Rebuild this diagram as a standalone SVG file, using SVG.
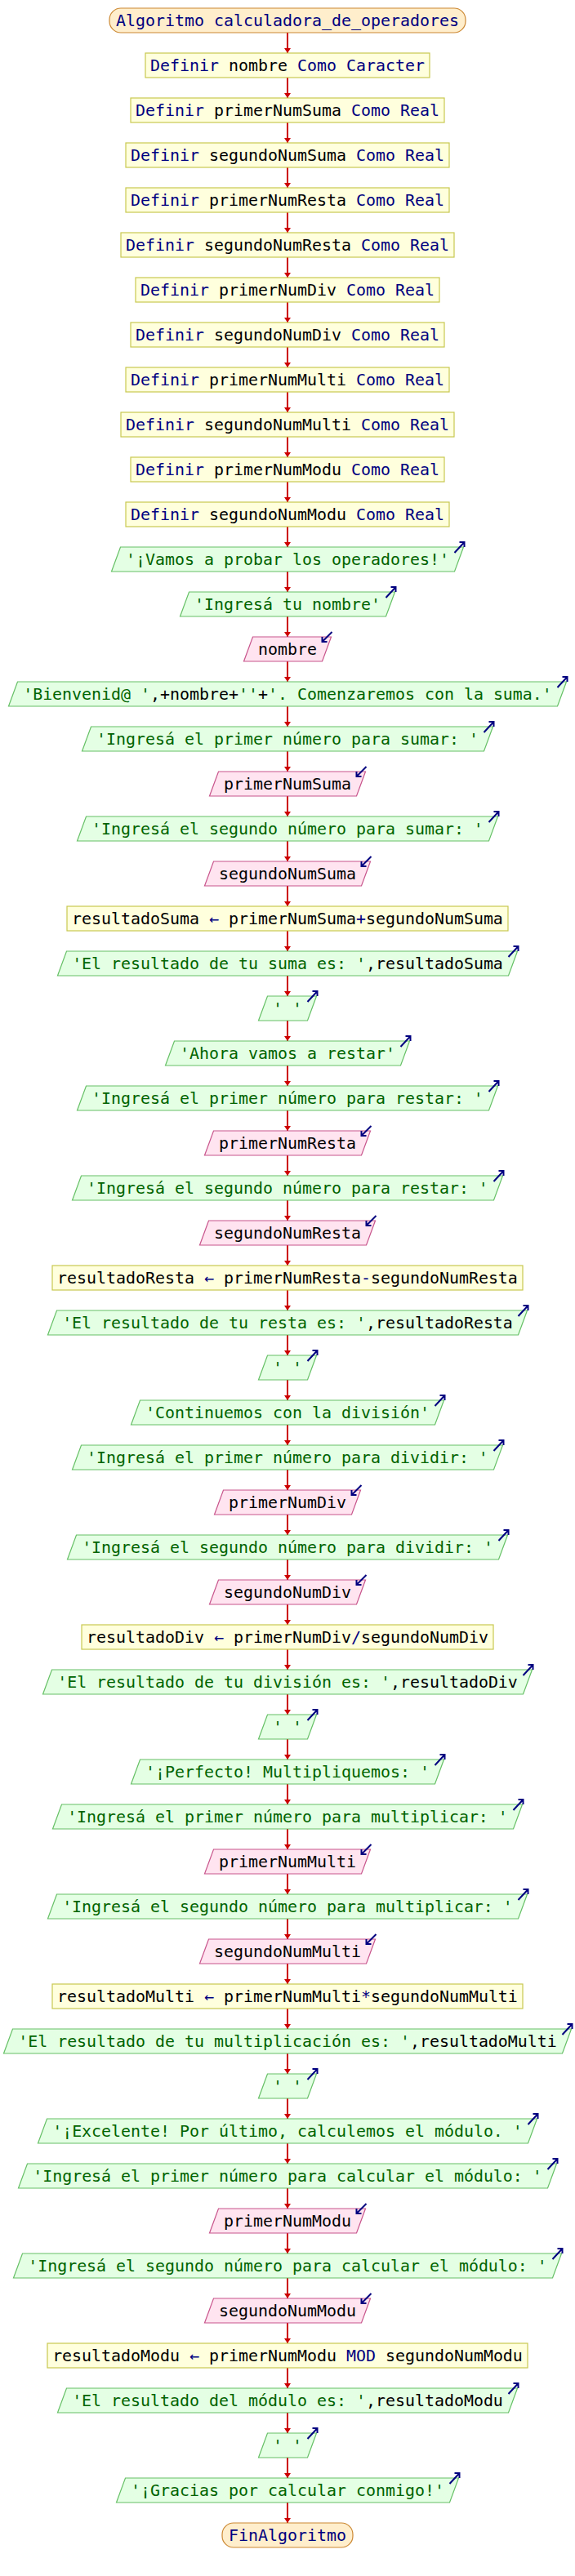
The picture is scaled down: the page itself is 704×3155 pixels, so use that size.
<svg xmlns="http://www.w3.org/2000/svg" xmlns:xlink="http://www.w3.org/1999/xlink" width="704" height="3155" viewBox="0 0 704 3155">
<style>
text{font-family:"DejaVu Sans Mono","Liberation Mono",monospace;font-size:19.93px;text-anchor:middle;white-space:pre;fill:#000}
.term{fill:#ffeecc;stroke:#cc8833;stroke-width:1.2}
.proc{fill:#ffffdd;stroke:#c8c850;stroke-width:1.2}
.out{fill:#e4ffe4;stroke:#66c066;stroke-width:1.2}
.in{fill:#ffe4f0;stroke:#c8558c;stroke-width:1.2}
.k{fill:#000080}
.s{fill:#006400}
.ic{fill:none;stroke:#000080;stroke-width:2}
.cn line{stroke:#cc0000;stroke-width:2;marker-end:url(#ah)}
</style>
<defs>
<marker id="ah" viewBox="0 0 6 8" refX="6" refY="4" markerWidth="6" markerHeight="8" markerUnits="userSpaceOnUse" orient="auto"><path d="M0,0L6,4L0,8z" fill="#cc0000"/></marker>
<path id="oi" class="ic" d="M-11,7L1,-6M-5,-6L1,-6L1,0"/>
<path id="ii" class="ic" d="M1,-6L-11,6M-11,0L-11,6L-5,6"/>
</defs>
<g id="connectors" class="cn">
<line x1="352" y1="40" x2="352" y2="65"/><line x1="352" y1="95" x2="352" y2="120"/><line x1="352" y1="150" x2="352" y2="175"/><line x1="352" y1="205" x2="352" y2="230"/><line x1="352" y1="260" x2="352" y2="285"/><line x1="352" y1="315" x2="352" y2="340"/><line x1="352" y1="370" x2="352" y2="395"/><line x1="352" y1="425" x2="352" y2="450"/><line x1="352" y1="480" x2="352" y2="505"/><line x1="352" y1="535" x2="352" y2="560"/><line x1="352" y1="590" x2="352" y2="615"/><line x1="352" y1="645" x2="352" y2="670"/><line x1="352" y1="700" x2="352" y2="725"/><line x1="352" y1="755" x2="352" y2="780"/><line x1="352" y1="810" x2="352" y2="835"/><line x1="352" y1="865" x2="352" y2="890"/><line x1="352" y1="920" x2="352" y2="945"/><line x1="352" y1="975" x2="352" y2="1000"/><line x1="352" y1="1030" x2="352" y2="1055"/><line x1="352" y1="1085" x2="352" y2="1110"/><line x1="352" y1="1140" x2="352" y2="1165"/><line x1="352" y1="1195" x2="352" y2="1220"/><line x1="352" y1="1250" x2="352" y2="1275"/><line x1="352" y1="1305" x2="352" y2="1330"/><line x1="352" y1="1360" x2="352" y2="1385"/><line x1="352" y1="1415" x2="352" y2="1440"/><line x1="352" y1="1470" x2="352" y2="1495"/><line x1="352" y1="1525" x2="352" y2="1550"/><line x1="352" y1="1580" x2="352" y2="1605"/><line x1="352" y1="1635" x2="352" y2="1660"/><line x1="352" y1="1690" x2="352" y2="1715"/><line x1="352" y1="1745" x2="352" y2="1770"/><line x1="352" y1="1800" x2="352" y2="1825"/><line x1="352" y1="1855" x2="352" y2="1880"/><line x1="352" y1="1910" x2="352" y2="1935"/><line x1="352" y1="1965" x2="352" y2="1990"/><line x1="352" y1="2020" x2="352" y2="2045"/><line x1="352" y1="2075" x2="352" y2="2100"/><line x1="352" y1="2130" x2="352" y2="2155"/><line x1="352" y1="2185" x2="352" y2="2210"/><line x1="352" y1="2240" x2="352" y2="2265"/><line x1="352" y1="2295" x2="352" y2="2320"/><line x1="352" y1="2350" x2="352" y2="2375"/><line x1="352" y1="2405" x2="352" y2="2430"/><line x1="352" y1="2460" x2="352" y2="2485"/><line x1="352" y1="2515" x2="352" y2="2540"/><line x1="352" y1="2570" x2="352" y2="2595"/><line x1="352" y1="2625" x2="352" y2="2650"/><line x1="352" y1="2680" x2="352" y2="2705"/><line x1="352" y1="2735" x2="352" y2="2760"/><line x1="352" y1="2790" x2="352" y2="2815"/><line x1="352" y1="2845" x2="352" y2="2870"/><line x1="352" y1="2900" x2="352" y2="2925"/><line x1="352" y1="2955" x2="352" y2="2980"/><line x1="352" y1="3010" x2="352" y2="3035"/><line x1="352" y1="3065" x2="352" y2="3090"/>
</g>
<g id="n0" transform="translate(0,10)"><rect class="term" x="134" y="0" width="436" height="30" rx="14"/><text x="352" y="21.5" class="k">Algoritmo calculadora_de_operadores</text></g>
<g id="n1" transform="translate(0,65)"><rect class="proc" x="178" y="0" width="348" height="30"/><text x="352" y="21.5"><tspan class="k">Definir</tspan> nombre <tspan class="k">Como Caracter</tspan></text></g>
<g id="n2" transform="translate(0,120)"><rect class="proc" x="160" y="0" width="384" height="30"/><text x="352" y="21.5"><tspan class="k">Definir</tspan> primerNumSuma <tspan class="k">Como Real</tspan></text></g>
<g id="n3" transform="translate(0,175)"><rect class="proc" x="154" y="0" width="396" height="30"/><text x="352" y="21.5"><tspan class="k">Definir</tspan> segundoNumSuma <tspan class="k">Como Real</tspan></text></g>
<g id="n4" transform="translate(0,230)"><rect class="proc" x="154" y="0" width="396" height="30"/><text x="352" y="21.5"><tspan class="k">Definir</tspan> primerNumResta <tspan class="k">Como Real</tspan></text></g>
<g id="n5" transform="translate(0,285)"><rect class="proc" x="148" y="0" width="408" height="30"/><text x="352" y="21.5"><tspan class="k">Definir</tspan> segundoNumResta <tspan class="k">Como Real</tspan></text></g>
<g id="n6" transform="translate(0,340)"><rect class="proc" x="166" y="0" width="372" height="30"/><text x="352" y="21.5"><tspan class="k">Definir</tspan> primerNumDiv <tspan class="k">Como Real</tspan></text></g>
<g id="n7" transform="translate(0,395)"><rect class="proc" x="160" y="0" width="384" height="30"/><text x="352" y="21.5"><tspan class="k">Definir</tspan> segundoNumDiv <tspan class="k">Como Real</tspan></text></g>
<g id="n8" transform="translate(0,450)"><rect class="proc" x="154" y="0" width="396" height="30"/><text x="352" y="21.5"><tspan class="k">Definir</tspan> primerNumMulti <tspan class="k">Como Real</tspan></text></g>
<g id="n9" transform="translate(0,505)"><rect class="proc" x="148" y="0" width="408" height="30"/><text x="352" y="21.5"><tspan class="k">Definir</tspan> segundoNumMulti <tspan class="k">Como Real</tspan></text></g>
<g id="n10" transform="translate(0,560)"><rect class="proc" x="160" y="0" width="384" height="30"/><text x="352" y="21.5"><tspan class="k">Definir</tspan> primerNumModu <tspan class="k">Como Real</tspan></text></g>
<g id="n11" transform="translate(0,615)"><rect class="proc" x="154" y="0" width="396" height="30"/><text x="352" y="21.5"><tspan class="k">Definir</tspan> segundoNumModu <tspan class="k">Como Real</tspan></text></g>
<g id="n12" transform="translate(0,670)"><polygon class="out" points="136.5,30 147.5,0 567.5,0 556.5,30"/><text x="352" y="21.5" class="s">'¡Vamos a probar los operadores!'</text><use xlink:href="#oi" x="567.5" y="0"/></g>
<g id="n13" transform="translate(0,725)"><polygon class="out" points="220.5,30 231.5,0 483.5,0 472.5,30"/><text x="352" y="21.5" class="s">'Ingresá tu nombre'</text><use xlink:href="#oi" x="483.5" y="0"/></g>
<g id="n14" transform="translate(0,780)"><polygon class="in" points="298.5,30 309.5,0 405.5,0 394.5,30"/><text x="352" y="21.5">nombre</text><use xlink:href="#ii" x="405.5" y="0"/></g>
<g id="n15" transform="translate(0,835)"><polygon class="out" points="10.5,30 21.5,0 693.5,0 682.5,30"/><text x="352" y="21.5"><tspan class="s">'Bienvenid@ '</tspan>,+nombre+<tspan class="s">''</tspan>+<tspan class="s">'. Comenzaremos con la suma.'</tspan></text><use xlink:href="#oi" x="693.5" y="0"/></g>
<g id="n16" transform="translate(0,890)"><polygon class="out" points="100.5,30 111.5,0 603.5,0 592.5,30"/><text x="352" y="21.5" class="s">'Ingresá el primer número para sumar: '</text><use xlink:href="#oi" x="603.5" y="0"/></g>
<g id="n17" transform="translate(0,945)"><polygon class="in" points="256.5,30 267.5,0 447.5,0 436.5,30"/><text x="352" y="21.5">primerNumSuma</text><use xlink:href="#ii" x="447.5" y="0"/></g>
<g id="n18" transform="translate(0,1000)"><polygon class="out" points="94.5,30 105.5,0 609.5,0 598.5,30"/><text x="352" y="21.5" class="s">'Ingresá el segundo número para sumar: '</text><use xlink:href="#oi" x="609.5" y="0"/></g>
<g id="n19" transform="translate(0,1055)"><polygon class="in" points="250.5,30 261.5,0 453.5,0 442.5,30"/><text x="352" y="21.5">segundoNumSuma</text><use xlink:href="#ii" x="453.5" y="0"/></g>
<g id="n20" transform="translate(0,1110)"><rect class="proc" x="82" y="0" width="540" height="30"/><text x="352" y="21.5">resultadoSuma <tspan class="k">←</tspan> primerNumSuma<tspan class="k">+</tspan>segundoNumSuma</text></g>
<g id="n21" transform="translate(0,1165)"><polygon class="out" points="70.5,30 81.5,0 633.5,0 622.5,30"/><text x="352" y="21.5"><tspan class="s">'El resultado de tu suma es: '</tspan>,resultadoSuma</text><use xlink:href="#oi" x="633.5" y="0"/></g>
<g id="n22" transform="translate(0,1220)"><polygon class="out" points="316.5,30 327.5,0 387.5,0 376.5,30"/><text x="352" y="21.5" class="s">' '</text><use xlink:href="#oi" x="387.5" y="0"/></g>
<g id="n23" transform="translate(0,1275)"><polygon class="out" points="202.5,30 213.5,0 501.5,0 490.5,30"/><text x="352" y="21.5" class="s">'Ahora vamos a restar'</text><use xlink:href="#oi" x="501.5" y="0"/></g>
<g id="n24" transform="translate(0,1330)"><polygon class="out" points="94.5,30 105.5,0 609.5,0 598.5,30"/><text x="352" y="21.5" class="s">'Ingresá el primer número para restar: '</text><use xlink:href="#oi" x="609.5" y="0"/></g>
<g id="n25" transform="translate(0,1385)"><polygon class="in" points="250.5,30 261.5,0 453.5,0 442.5,30"/><text x="352" y="21.5">primerNumResta</text><use xlink:href="#ii" x="453.5" y="0"/></g>
<g id="n26" transform="translate(0,1440)"><polygon class="out" points="88.5,30 99.5,0 615.5,0 604.5,30"/><text x="352" y="21.5" class="s">'Ingresá el segundo número para restar: '</text><use xlink:href="#oi" x="615.5" y="0"/></g>
<g id="n27" transform="translate(0,1495)"><polygon class="in" points="244.5,30 255.5,0 459.5,0 448.5,30"/><text x="352" y="21.5">segundoNumResta</text><use xlink:href="#ii" x="459.5" y="0"/></g>
<g id="n28" transform="translate(0,1550)"><rect class="proc" x="64" y="0" width="576" height="30"/><text x="352" y="21.5">resultadoResta <tspan class="k">←</tspan> primerNumResta<tspan class="k">-</tspan>segundoNumResta</text></g>
<g id="n29" transform="translate(0,1605)"><polygon class="out" points="58.5,30 69.5,0 645.5,0 634.5,30"/><text x="352" y="21.5"><tspan class="s">'El resultado de tu resta es: '</tspan>,resultadoResta</text><use xlink:href="#oi" x="645.5" y="0"/></g>
<g id="n30" transform="translate(0,1660)"><polygon class="out" points="316.5,30 327.5,0 387.5,0 376.5,30"/><text x="352" y="21.5" class="s">' '</text><use xlink:href="#oi" x="387.5" y="0"/></g>
<g id="n31" transform="translate(0,1715)"><polygon class="out" points="160.5,30 171.5,0 543.5,0 532.5,30"/><text x="352" y="21.5" class="s">'Continuemos con la división'</text><use xlink:href="#oi" x="543.5" y="0"/></g>
<g id="n32" transform="translate(0,1770)"><polygon class="out" points="88.5,30 99.5,0 615.5,0 604.5,30"/><text x="352" y="21.5" class="s">'Ingresá el primer número para dividir: '</text><use xlink:href="#oi" x="615.5" y="0"/></g>
<g id="n33" transform="translate(0,1825)"><polygon class="in" points="262.5,30 273.5,0 441.5,0 430.5,30"/><text x="352" y="21.5">primerNumDiv</text><use xlink:href="#ii" x="441.5" y="0"/></g>
<g id="n34" transform="translate(0,1880)"><polygon class="out" points="82.5,30 93.5,0 621.5,0 610.5,30"/><text x="352" y="21.5" class="s">'Ingresá el segundo número para dividir: '</text><use xlink:href="#oi" x="621.5" y="0"/></g>
<g id="n35" transform="translate(0,1935)"><polygon class="in" points="256.5,30 267.5,0 447.5,0 436.5,30"/><text x="352" y="21.5">segundoNumDiv</text><use xlink:href="#ii" x="447.5" y="0"/></g>
<g id="n36" transform="translate(0,1990)"><rect class="proc" x="100" y="0" width="504" height="30"/><text x="352" y="21.5">resultadoDiv <tspan class="k">←</tspan> primerNumDiv<tspan class="k">/</tspan>segundoNumDiv</text></g>
<g id="n37" transform="translate(0,2045)"><polygon class="out" points="52.5,30 63.5,0 651.5,0 640.5,30"/><text x="352" y="21.5"><tspan class="s">'El resultado de tu división es: '</tspan>,resultadoDiv</text><use xlink:href="#oi" x="651.5" y="0"/></g>
<g id="n38" transform="translate(0,2100)"><polygon class="out" points="316.5,30 327.5,0 387.5,0 376.5,30"/><text x="352" y="21.5" class="s">' '</text><use xlink:href="#oi" x="387.5" y="0"/></g>
<g id="n39" transform="translate(0,2155)"><polygon class="out" points="160.5,30 171.5,0 543.5,0 532.5,30"/><text x="352" y="21.5" class="s">'¡Perfecto! Multipliquemos: '</text><use xlink:href="#oi" x="543.5" y="0"/></g>
<g id="n40" transform="translate(0,2210)"><polygon class="out" points="64.5,30 75.5,0 639.5,0 628.5,30"/><text x="352" y="21.5" class="s">'Ingresá el primer número para multiplicar: '</text><use xlink:href="#oi" x="639.5" y="0"/></g>
<g id="n41" transform="translate(0,2265)"><polygon class="in" points="250.5,30 261.5,0 453.5,0 442.5,30"/><text x="352" y="21.5">primerNumMulti</text><use xlink:href="#ii" x="453.5" y="0"/></g>
<g id="n42" transform="translate(0,2320)"><polygon class="out" points="58.5,30 69.5,0 645.5,0 634.5,30"/><text x="352" y="21.5" class="s">'Ingresá el segundo número para multiplicar: '</text><use xlink:href="#oi" x="645.5" y="0"/></g>
<g id="n43" transform="translate(0,2375)"><polygon class="in" points="244.5,30 255.5,0 459.5,0 448.5,30"/><text x="352" y="21.5">segundoNumMulti</text><use xlink:href="#ii" x="459.5" y="0"/></g>
<g id="n44" transform="translate(0,2430)"><rect class="proc" x="64" y="0" width="576" height="30"/><text x="352" y="21.5">resultadoMulti <tspan class="k">←</tspan> primerNumMulti<tspan class="k">*</tspan>segundoNumMulti</text></g>
<g id="n45" transform="translate(0,2485)"><polygon class="out" points="4.5,30 15.5,0 699.5,0 688.5,30"/><text x="352" y="21.5"><tspan class="s">'El resultado de tu multiplicación es: '</tspan>,resultadoMulti</text><use xlink:href="#oi" x="699.5" y="0"/></g>
<g id="n46" transform="translate(0,2540)"><polygon class="out" points="316.5,30 327.5,0 387.5,0 376.5,30"/><text x="352" y="21.5" class="s">' '</text><use xlink:href="#oi" x="387.5" y="0"/></g>
<g id="n47" transform="translate(0,2595)"><polygon class="out" points="46.5,30 57.5,0 657.5,0 646.5,30"/><text x="352" y="21.5" class="s">'¡Excelente! Por último, calculemos el módulo. '</text><use xlink:href="#oi" x="657.5" y="0"/></g>
<g id="n48" transform="translate(0,2650)"><polygon class="out" points="22.5,30 33.5,0 681.5,0 670.5,30"/><text x="352" y="21.5" class="s">'Ingresá el primer número para calcular el módulo: '</text><use xlink:href="#oi" x="681.5" y="0"/></g>
<g id="n49" transform="translate(0,2705)"><polygon class="in" points="256.5,30 267.5,0 447.5,0 436.5,30"/><text x="352" y="21.5">primerNumModu</text><use xlink:href="#ii" x="447.5" y="0"/></g>
<g id="n50" transform="translate(0,2760)"><polygon class="out" points="16.5,30 27.5,0 687.5,0 676.5,30"/><text x="352" y="21.5" class="s">'Ingresá el segundo número para calcular el módulo: '</text><use xlink:href="#oi" x="687.5" y="0"/></g>
<g id="n51" transform="translate(0,2815)"><polygon class="in" points="250.5,30 261.5,0 453.5,0 442.5,30"/><text x="352" y="21.5">segundoNumModu</text><use xlink:href="#ii" x="453.5" y="0"/></g>
<g id="n52" transform="translate(0,2870)"><rect class="proc" x="58" y="0" width="588" height="30"/><text x="352" y="21.5">resultadoModu <tspan class="k">←</tspan> primerNumModu <tspan class="k">MOD</tspan> segundoNumModu</text></g>
<g id="n53" transform="translate(0,2925)"><polygon class="out" points="70.5,30 81.5,0 633.5,0 622.5,30"/><text x="352" y="21.5"><tspan class="s">'El resultado del módulo es: '</tspan>,resultadoModu</text><use xlink:href="#oi" x="633.5" y="0"/></g>
<g id="n54" transform="translate(0,2980)"><polygon class="out" points="316.5,30 327.5,0 387.5,0 376.5,30"/><text x="352" y="21.5" class="s">' '</text><use xlink:href="#oi" x="387.5" y="0"/></g>
<g id="n55" transform="translate(0,3035)"><polygon class="out" points="142.5,30 153.5,0 561.5,0 550.5,30"/><text x="352" y="21.5" class="s">'¡Gracias por calcular conmigo!'</text><use xlink:href="#oi" x="561.5" y="0"/></g>
<g id="n56" transform="translate(0,3090)"><rect class="term" x="272" y="0" width="160" height="30" rx="14"/><text x="352" y="21.5" class="k">FinAlgoritmo</text></g>
</svg>
